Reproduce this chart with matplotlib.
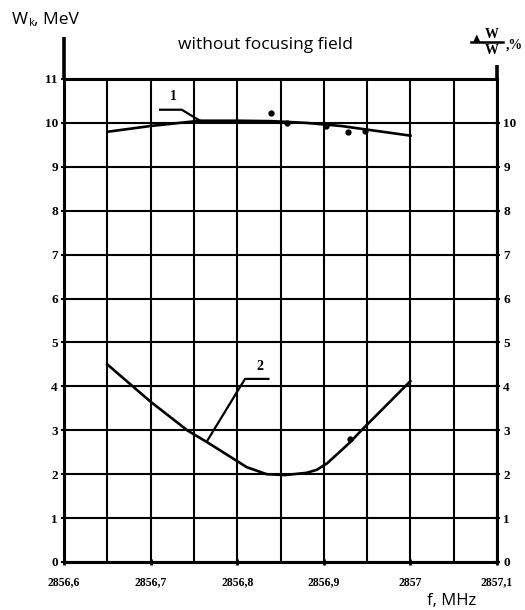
import numpy as np
from matplotlib import pyplot as plt

# curve 1: kinetic energy, MeV
f1 = [2856.651, 2856.70, 2856.757, 2856.80, 2856.84, 2856.88, 2856.92, 2856.96, 2857.0]
w1 = [9.80, 9.93, 10.05, 10.05, 10.04, 10.00, 9.93, 9.82, 9.71]
# measured points near curve 1
f1_pts = [2856.839, 2856.857, 2856.903, 2856.928, 2856.948]
w1_pts = [10.22, 9.99, 9.92, 9.80, 9.82]

# curve 2: energy spread, %
f2 = [2856.650, 2856.70, 2856.743, 2856.766, 2856.811, 2856.834, 2856.855,
      2856.880, 2856.892, 2856.904, 2856.930, 2856.945, 2857.0]
w2 = [4.50, 3.65, 2.99, 2.72, 2.16, 2.00, 1.98, 2.03, 2.10, 2.25, 2.72, 3.03, 4.12]
f2_pts = [2856.930]
w2_pts = [2.80]

xticks = [2856.6, 2856.7, 2856.8, 2856.9, 2857.0, 2857.1]
xlabels = ["2856,6", "2856,7", "2856,8", "2856,9", "2857", "2857,1"]
xminor = [2856.65, 2856.75, 2856.85, 2856.95, 2857.05]

plt.rcParams['font.family'] = ['Open Sans', 'DejaVu Sans']

fig = plt.figure(figsize=(5.25, 6.1), dpi=100)
ax = fig.add_axes([64 / 525, 1 - 562 / 610, (497 - 64) / 525, (562 - 79) / 610])

ax.set_xlim(2856.6, 2857.1)
ax.set_ylim(0, 11)

for s in ax.spines.values():
    s.set_linewidth(2.2)
    s.set_color('black')

# axis lines extended upward
ax.plot([2856.6, 2856.6], [11, 11.96], color='black', lw=2.6, clip_on=False,
        solid_capstyle='butt')
ax.plot([2857.1, 2857.1], [11, 11.32], color='black', lw=2.6, clip_on=False,
        solid_capstyle='butt')

# curves
ax.plot(f1, w1, color='black', lw=1.9)
ax.plot(f1_pts, w1_pts, 'o', color='black', ms=3.5)
ax.plot(f2, w2, color='black', lw=1.9)
ax.plot(f2_pts, w2_pts, 'o', color='black', ms=3.5)

# leaders and curve numbers
ax.plot([2856.711, 2856.736, 2856.757], [10.30, 10.30, 10.05], color='black', lw=1.6)
ax.text(2856.726, 10.45, "1", family='Liberation Serif', weight='bold', fontsize=10,
        ha='center', va='bottom')
ax.plot([2856.766, 2856.809, 2856.836], [2.78, 4.17, 4.17], color='black', lw=1.6)
ax.text(2856.826, 4.30, "2", family='Liberation Serif', weight='bold', fontsize=10,
        ha='center', va='bottom')

# ticks, tick labels and grid
tfont = dict(family='Liberation Serif', weight='bold')
ax.set_xticks(xticks, xlabels)
ax.set_xticks(xminor, minor=True)
ax.tick_params(axis='x', which='major', direction='inout', length=5, width=2, pad=8)
ax.tick_params(axis='x', which='minor', length=0)
for lab in ax.get_xticklabels():
    lab.set(size=8.5, **tfont)
ax.set_yticks(range(0, 12), [str(i) for i in range(0, 12)])
ax.tick_params(axis='y', direction='inout', length=5, width=1.5, pad=2)
for lab in ax.get_yticklabels():
    lab.set(size=9.5, **tfont)
ax.grid(True, which='both', color='black', linewidth=1.5)
ax.set_axisbelow(True)

ax2 = ax.twinx()
ax2.set_ylim(0, 11)
ax2.set_yticks(range(0, 11), [str(i) for i in range(0, 11)])
ax2.tick_params(axis='y', direction='inout', length=5, width=1.5, pad=2)
for lab in ax2.get_yticklabels():
    lab.set(size=9.5, **tfont)
for s in ax2.spines.values():
    s.set_visible(False)

# titles and axis names
fig.text(265 / 525, 1 - 45 / 610, "without focusing field", fontsize=12.5,
         ha='center', va='center')
fig.text(12 / 525, 1 - 20 / 610, "W", fontsize=12.5, ha='left', va='center')
fig.text(29 / 525, 1 - 23 / 610, "k", fontsize=8, ha='left', va='center')
fig.text(34 / 525, 1 - 20 / 610, ", MeV", fontsize=12.5, ha='left', va='center')
fig.text(452 / 525, 1 - 601 / 610, "f, MHz", fontsize=12, ha='center', va='center')

# right axis name: dW/W, %
fig.text(477 / 525, 1 - 38 / 610, "\u25b2", fontsize=7, family='DejaVu Sans',
         ha='center', va='center')
fig.text(492 / 525, 1 - 34 / 610, "W", family='Liberation Serif', weight='bold',
         fontsize=10, ha='center', va='center')
fig.add_artist(plt.Line2D([471 / 525, 503 / 525], [1 - 42 / 610, 1 - 42 / 610],
                          color='black', lw=1.8))
fig.text(492 / 525, 1 - 51 / 610, "W", family='Liberation Serif', weight='bold',
         fontsize=10, ha='center', va='center')
fig.text(506 / 525, 1 - 45 / 610, ",%", family='Liberation Serif', weight='bold',
         fontsize=10, ha='left', va='center')

plt.savefig("out.png", dpi=100)
